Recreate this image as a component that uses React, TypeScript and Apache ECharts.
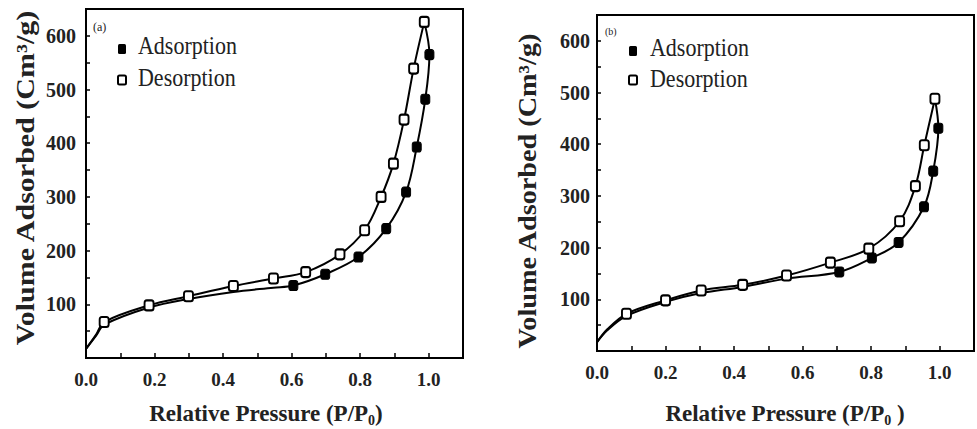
import React, { useEffect, useRef } from "react";
import * as echarts from "echarts";

// ---------- Data ----------
// Panel (a)
const aAdsX = [0, 0.03, 0.053, 0.184, 0.299, 0.43, 0.547, 0.605, 0.698, 0.795, 0.876, 0.934, 0.965, 0.99, 1.002, 0.987];
const aAdsY = [17, 42, 62, 94, 110, 123, 131, 135, 156, 188, 241, 309, 393, 482, 565, 626];
const aAdsMarked = [7, 8, 9, 10, 11, 12, 13, 14];
const aDesX = [0, 0.03, 0.053, 0.184, 0.299, 0.43, 0.547, 0.641, 0.741, 0.813, 0.861, 0.897, 0.928, 0.956, 0.987];
const aDesY = [17, 44, 67, 98, 115, 134, 148, 160, 193, 238, 300, 362, 444, 539, 626];
const aDesMarked = [2, 3, 4, 5, 6, 7, 8, 9, 10, 11, 12, 13, 14];

// Panel (b)
const bAdsX = [0, 0.03, 0.086, 0.2, 0.304, 0.425, 0.553, 0.707, 0.802, 0.88, 0.954, 0.981, 0.996, 0.986];
const bAdsY = [17, 40, 68, 95, 112, 124, 140, 153, 180, 210, 279, 348, 431, 488];
const bAdsMarked = [7, 8, 9, 10, 11, 12];
const bDesX = [0, 0.03, 0.086, 0.2, 0.304, 0.425, 0.553, 0.681, 0.793, 0.883, 0.929, 0.955, 0.986];
const bDesY = [17, 42, 72, 98, 117, 128, 146, 171, 198, 251, 319, 398, 488];
const bDesMarked = [2, 3, 4, 5, 6, 7, 8, 9, 10, 11, 12];

const seriesNames = ["Adsorption", "Desorption"];
const panelLabels = ["(a)", "(b)"];
const xTitle = "Relative Pressure";
const yTitle = "Volume Adsorbed (Cm³/g)";

const X_MIN = 0, X_MAX = 1.1, X_STEP = 0.1;
const Y_MIN = 0, Y_MAX = 650, Y_STEP = 50;

const FONT = "Liberation Serif";

function buildData(xs: number[], ys: number[], marked: number[]) {
  return xs.map((x, i) => ({
    value: [x, ys[i]],
    symbol: marked.includes(i) ? "roundRect" : "none",
  }));
}

function xAxisCfg(gridIndex: number) {
  return {
    type: "value",
    gridIndex,
    min: X_MIN,
    max: X_MAX,
    interval: X_STEP,
    axisLine: { show: true, onZero: false, lineStyle: { color: "#000", width: 2 } },
    axisTick: { show: true, inside: true, length: 5, lineStyle: { color: "#000", width: 1.5 } },
    splitLine: { show: false },
    axisLabel: {
      margin: 12,
      fontFamily: FONT,
      fontWeight: "bold",
      fontSize: 19,
      color: "#222",
      formatter: (v: number) => {
        const k = Math.round(v * 10);
        return k % 2 === 0 && k <= 10 ? (k / 10).toFixed(1) : "";
      },
    },
  };
}

function yAxisCfg(gridIndex: number, margin: number) {
  return {
    type: "value",
    gridIndex,
    min: Y_MIN,
    max: Y_MAX,
    interval: Y_STEP,
    axisLine: { show: true, onZero: false, lineStyle: { color: "#000", width: 2 } },
    axisTick: { show: true, inside: true, length: 4, lineStyle: { color: "#000", width: 1.5 } },
    splitLine: { show: false },
    axisLabel: {
      margin,
      fontFamily: FONT,
      fontWeight: "bold",
      fontSize: 20,
      color: "#222",
      formatter: (v: number) => (v % 100 === 0 && v > 0 && v < Y_MAX ? String(v) : ""),
    },
  };
}

function seriesCfg(idx: number, name: string, xs: number[], ys: number[], marked: number[], open: boolean) {
  return {
    type: "line",
    name,
    xAxisIndex: idx,
    yAxisIndex: idx,
    smooth: 0.35,
    symbolSize: [9, 10],
    z: open ? 3 : 2,
    lineStyle: { color: "#000", width: 2 },
    itemStyle: open
      ? { color: "#fff", borderColor: "#000", borderWidth: 2 }
      : { color: "#000", borderColor: "#000", borderWidth: 1 },
    data: buildData(xs, ys, marked),
  };
}

function legendGraphics(mx: number, y1: number, y2: number, tx: number, t1: number, t2: number) {
  return [
    { type: "rect", shape: { x: mx - 4, y: y1 - 5, width: 8, height: 10, r: 1.5 }, style: { fill: "#000" } },
    { type: "rect", shape: { x: mx - 4, y: y2 - 4.5, width: 8, height: 9, r: 1.5 }, style: { fill: "#fff", stroke: "#000", lineWidth: 2 } },
    {
      type: "text", x: tx, y: t1, scaleY: 1.15,
      style: { text: seriesNames[0], fontFamily: FONT, fontSize: 22, fill: "#222", align: "left", textAlign: "left", verticalAlign: "middle", textVerticalAlign: "middle" },
    },
    {
      type: "text", x: tx, y: t2, scaleY: 1.15,
      style: { text: seriesNames[1], fontFamily: FONT, fontSize: 22, fill: "#222", align: "left", textAlign: "left", verticalAlign: "middle", textVerticalAlign: "middle" },
    },
  ];
}

function xTitleGraphic(cx: number, cy: number, tail: string) {
  return {
    type: "text", x: cx, y: cy,
    style: {
      text: xTitle + " (P/P{s|0}" + tail + ")",
      fontFamily: FONT, fontWeight: "bold", fontSize: 23, lineHeight: 28, fill: "#222",
      align: "center", textAlign: "center", verticalAlign: "middle", textVerticalAlign: "middle",
      rich: { s: { fontFamily: FONT, fontWeight: "bold", fontSize: 14, lineHeight: 28, verticalAlign: "bottom" } },
    },
  };
}

function yTitleGraphic(cx: number, cy: number, sx: number) {
  return {
    type: "text", x: cx, y: cy, rotation: Math.PI / 2, scaleX: sx,
    style: {
      text: yTitle, fontFamily: FONT, fontWeight: "bold", fontSize: 25, fill: "#222",
      align: "center", textAlign: "center", verticalAlign: "middle", textVerticalAlign: "middle",
    },
  };
}

export default function App() {
  const ref = useRef<HTMLDivElement>(null);
  useEffect(() => {
    if (!ref.current) return;
    const chart = echarts.init(ref.current, null, { renderer: "svg" });
    const option: any = {
      animation: false,
      backgroundColor: "#fff",
      textStyle: { fontFamily: FONT },
      grid: [
        { left: 86, top: 9, width: 377, height: 349, show: true, borderColor: "#000", borderWidth: 2, backgroundColor: "transparent", containLabel: false },
        { left: 597, top: 15, width: 387, height: 336, show: true, borderColor: "#000", borderWidth: 2, backgroundColor: "transparent", containLabel: false },
      ],
      xAxis: [xAxisCfg(0), xAxisCfg(1)],
      yAxis: [yAxisCfg(0, 10), yAxisCfg(1, 7)],
      series: [
        seriesCfg(0, seriesNames[0], aAdsX, aAdsY, aAdsMarked, false),
        seriesCfg(0, seriesNames[1], aDesX, aDesY, aDesMarked, true),
        seriesCfg(1, seriesNames[0], bAdsX, bAdsY, bAdsMarked, false),
        seriesCfg(1, seriesNames[1], bDesX, bDesY, bDesMarked, true),
      ],
      graphic: [
        ...legendGraphics(122, 49, 80, 138, 45, 77),
        ...legendGraphics(633, 51, 80, 650, 47, 78),
        { type: "text", x: 93, y: 27, style: { text: panelLabels[0], fontFamily: FONT, fontSize: 12, fill: "#222", align: "left", textAlign: "left", verticalAlign: "middle", textVerticalAlign: "middle" } },
        { type: "text", x: 605, y: 31, style: { text: panelLabels[1], fontFamily: FONT, fontSize: 10, fill: "#222", align: "left", textAlign: "left", verticalAlign: "middle", textVerticalAlign: "middle" } },
        xTitleGraphic(266, 413, ""),
        xTitleGraphic(785, 413, " "),
        yTitleGraphic(25, 178, 1.2),
        yTitleGraphic(528, 191, 1.13),
      ],
    };
    chart.setOption(option);
    return () => chart.dispose();
  }, []);
  return (
    <div
      ref={ref}
      style={{ position: "fixed", left: 0, top: 0, width: 977, height: 429, background: "#fff", overflow: "hidden" }}
    />
  );
}
